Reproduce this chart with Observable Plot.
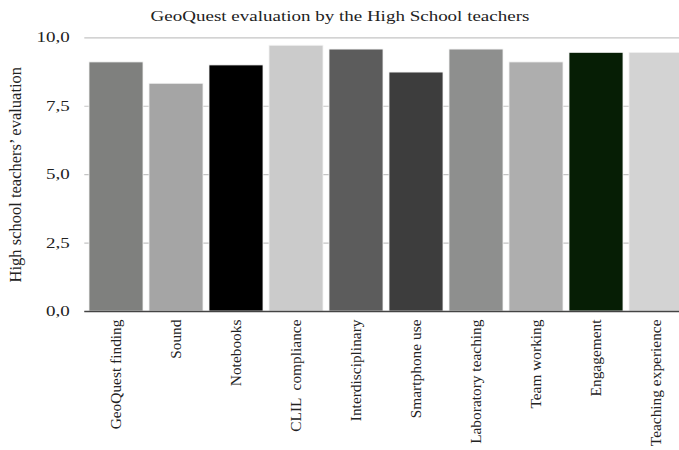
<!DOCTYPE html>
<html>
<head>
<meta charset="utf-8">
<script src="https://cdn.jsdelivr.net/npm/d3@7"></script>
<script src="https://cdn.jsdelivr.net/npm/@observablehq/plot@0.6"></script>
<style>
  html, body { margin: 0; padding: 0; background: #fff; overflow: hidden; width: 679px; height: 450px; }
  #title { height: 29px; width: 679px; position: relative; }
  #title span { position: absolute; left: 50%; top: 8px; white-space: nowrap; font-family: "Liberation Serif", "Times New Roman", serif; font-size: 14.5px; color: #222; transform: translateX(-50%) scaleX(1.31); transform-origin: center; }
  #chart svg { display: block; max-width: none !important; }
  #chart svg, #chart svg text { font-family: "Liberation Serif", "Times New Roman", serif !important; }
  #chart svg text { white-space: pre; }
</style>
</head>
<body>
<div id="title"><span>GeoQuest evaluation by the High School teachers</span></div>
<div id="chart"></div>
<script>
const categories = ["GeoQuest finding", "Sound", "Notebooks", "CLIL  compliance", "Interdisciplinary", "Smartphone use", "Laboratory teaching", "Team working", "Engagement", "Teaching experience"];
const scores = [9.10, 8.32, 8.99, 9.71, 9.57, 8.73, 9.57, 9.10, 9.45, 9.45];
const barColors = ["#7f807e", "#a5a5a5", "#000000", "#cbcbcb", "#5c5c5c", "#3d3d3d", "#8e8f8e", "#aeaeae", "#061e05", "#d3d3d3"];
const yTicks = [0, 2.5, 5, 7.5, 10];
const yLabel = "High school teachers’ evaluation";

const data = categories.map((c, i) => ({category: c, score: scores[i], color: barColors[i]}));

const chart = Plot.plot({
  width: 688,
  height: 421,
  marginLeft: 84.3,
  marginRight: 0,
  marginTop: 8.3,
  marginBottom: 139,
  style: { fontFamily: '"Liberation Serif", "Times New Roman", serif', fontSize: "15px", color: "#222", background: "#fff" },
  x: { domain: categories, paddingInner: 0.1, paddingOuter: 0.05 },
  y: { domain: [0, 10] },
  marks: [
    Plot.gridY(yTicks, { stroke: "#c4c4c4", strokeOpacity: 1, strokeWidth: 1.2 }),
    Plot.barY(data, { x: "category", y: "score", fill: "color", stroke: "#f2f2f2", strokeWidth: 0.8 }),
    Plot.ruleY([0], { stroke: "#444", strokeWidth: 1.5 }),
    Plot.axisY({ ticks: yTicks, tickSize: 0, tickPadding: 15, fontSize: 14.5,
      tickFormat: d => d.toFixed(1).replace(".", ","),
      label: null }),
    Plot.axisY({ ticks: [], tickSize: 0, fontSize: 16.5,
      label: yLabel, labelAnchor: "center", labelArrow: "none", labelOffset: 76 }),
    Plot.axisX({ tickSize: 0, tickPadding: 8, tickRotate: -90, label: null, fontSize: 15.4 })
  ]
});
// horizontally widen the y tick labels, as in the reference
d3.select(chart).selectAll("g[aria-label='y-axis tick label'] text").each(function() {
  const t = this.getAttribute("transform") || "";
  this.setAttribute("transform", t + " scale(1.31,1)");
});
document.getElementById("chart").appendChild(chart);
</script>
</body>
</html>
